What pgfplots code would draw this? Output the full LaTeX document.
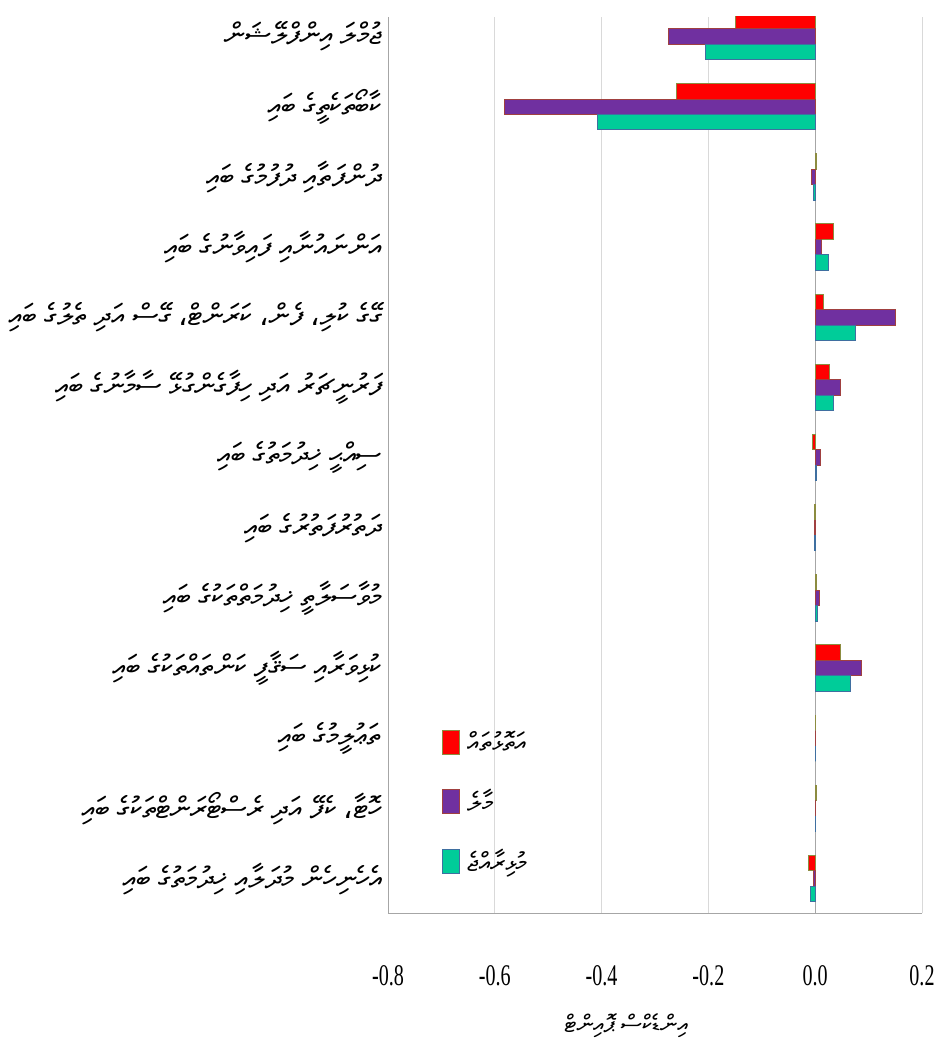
\documentclass[border=0pt]{standalone}
\usepackage{fontspec}
\usepackage{pgfplots}
\usepackage{pgfplotstable}
\pgfplotsset{compat=1.18}
\usetikzlibrary{calc}
\TeXXeTstate=1
\setmainfont{Liberation Serif}
\newfontfamily\tickfont[FakeStretch=0.67]{Liberation Serif}
\newfontfamily\arabicfont[Script=Arabic]{DejaVu Sans}
\IfFontExistsTF{FreeSerif}{\newfontfamily\thaana[Script=Thaana]{FreeSerif}}{%
 \IfFontExistsTF{FreeSans}{\newfontfamily\thaana[Script=Thaana]{FreeSans}}{%
  \IfFontExistsTF{FreeSerif.ttf}{\newfontfamily\thaana[Script=Thaana]{FreeSerif.ttf}}{%
   \newfontfamily\thaana{DejaVu Sans}}}}
\newcommand\tc{{\arabicfont ،}}
\newcommand\tx[1]{{\thaana\beginR #1\endR}}
\definecolor{cred}{HTML}{FF0000}
\definecolor{credb}{HTML}{8C8C40}
\definecolor{cpur}{HTML}{7030A0}
\definecolor{cpurb}{HTML}{A04040}
\definecolor{cteal}{HTML}{00CC99}
\definecolor{ctealb}{HTML}{3F6FA0}
\definecolor{gridgray}{HTML}{D9D9D9}
\definecolor{axisgray}{HTML}{A6A6A6}
\pgfplotstableread{
y red purple teal
12 -0.149 -0.274 -0.205
11 -0.259 -0.581 -0.407
10 0.002 -0.007 -0.003
9 0.034 0.012 0.024
8 0.016 0.150 0.076
7 0.026 0.047 0.034
6 -0.005 0.010 0.002
5 -0.002 -0.001 -0.002
4 0.002 0.008 0.004
3 0.048 0.086 0.067
2 0 0 0
1 0.002 0.001 0.001
0 -0.013 -0.003 -0.008
}\datatable
\begin{document}
\begin{tikzpicture}
\begin{axis}[name=ax, scale only axis, width=534pt, height=896pt,
  xmin=-0.8, xmax=0.2, ymin=-0.49, ymax=12.28,
  xbar, bar width=0.22,
  xtick={-0.8,-0.6,-0.4,-0.2,0,0.2},
  xticklabels={-0.8,-0.6,-0.4,-0.2,0.0,0.2},
  ytick={0,1,2,3,4,5,6,7,8,9,10,11,12},
  yticklabels={
    {\tx{އެހެނިހެން މުދަލާއި ޚިދުމަތުގެ ބައި}},
    {\tx{ހޮޓާ\tc{} ކެފޭ އަދި ރެސްޓޯރަންޓްތަކުގެ ބައި}},
    {\tx{ތަޢުލީމުގެ ބައި}},
    {\tx{ކުޅިވަރާއި ސަޤާފީ ކަންތައްތަކުގެ ބައި}},
    {\tx{މުވާސަލާތީ ޚިދުމަތްތަކުގެ ބައި}},
    {\tx{ދަތުރުފަތުރުގެ ބައި}},
    {\tx{ސިއްޙީ ޚިދުމަތުގެ ބައި}},
    {\tx{ފަރުނީޗަރު އަދި ހިފާގެންގުޅޭ ސާމާނުގެ ބައި}},
    {\tx{ގޭގެ ކުލި\tc{} ފެން\tc{} ކަރަންޓް\tc{} ގޭސް އަދި ތެލުގެ ބައި}},
    {\tx{އަންނައުނާއި ފައިވާނުގެ ބައި}},
    {\tx{ދުންފަތާއި ދުފުމުގެ ބައި}},
    {\tx{ކާބޯތަކެތީގެ ބައި}},
    {\tx{ޖުމްލަ އިންފްލޭޝަން}}},
  axis x line=bottom, axis y line=left,
  axis line style={draw=axisgray, line width=0.8pt, -},
  major tick length=0pt,
  xmajorgrids, grid style={gridgray, line width=0.8pt},
  extra x ticks={0}, extra x tick labels={},
  extra x tick style={grid style={axisgray, line width=1pt}},
  xticklabel style={font=\tickfont\fontsize{30}{30}\selectfont, yshift=-49pt},
  yticklabel style={font=\fontsize{29.5}{32}\selectfont, anchor=east, xshift=-3pt},
  xlabel={\tx{އިންޑެކްސް ޕޮއިންޓް}},
  xlabel style={font=\fontsize{24}{28}\selectfont, at={(rel axis cs:0.446,0)}, anchor=north, yshift=-97pt},
  legend image code/.code={\draw[#1, line width=1pt] (0pt,-12pt) rectangle (17pt,12pt);},
  legend style={at={(rel axis cs:0.101,0.205)}, anchor=north west, draw=none, fill=none,
    inner sep=0pt, row sep=34pt, font=\fontsize{26}{28}\selectfont,
    nodes={inner sep=1pt}},
  legend cell align=left,
]
\addplot[xbar, bar shift=0pt, fill=cred, draw=credb, line width=1pt] table[x=red, y expr=\thisrow{y}+0.22] {\datatable};
\addlegendentry{\hspace{6pt}\tx{އަތޮޅުތައް}}
\addplot[xbar, bar shift=0pt, fill=cpur, draw=cpurb, line width=1pt] table[x=purple, y expr=\thisrow{y}] {\datatable};
\addlegendentry{\hspace{6pt}\tx{މާލެ}}
\addplot[xbar, bar shift=0pt, fill=cteal, draw=ctealb, line width=1pt] table[x=teal, y expr=\thisrow{y}-0.22] {\datatable};
\addlegendentry{\hspace{6pt}\tx{މުޅިރާއްޖެ}}
\end{axis}
\pgfresetboundingbox
\path ($(ax.south west)+(-388pt,-136pt)$) rectangle ($(ax.north east)+(12pt,17pt)$);
\end{tikzpicture}
\end{document}
